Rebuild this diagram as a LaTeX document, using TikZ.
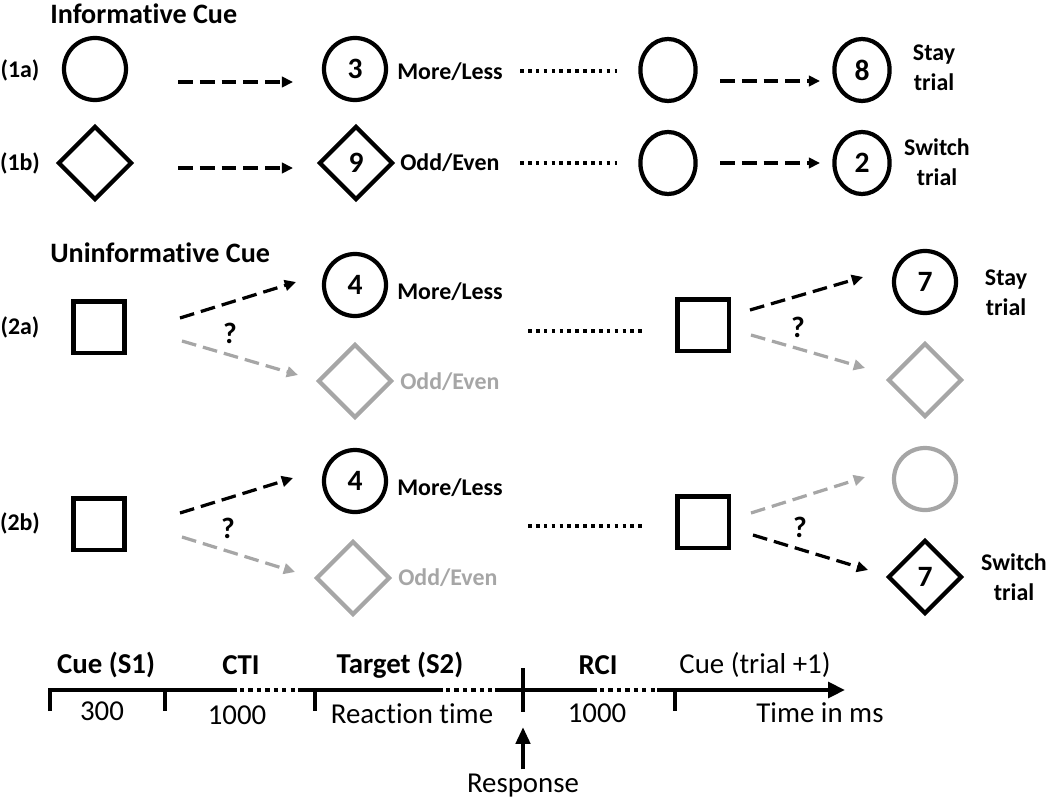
\documentclass[tikz,border=0pt]{standalone}
\usepackage{fontspec}
\setmainfont{Carlito}[Ligatures=NoCommon]
\usepackage{xcolor}
\usetikzlibrary{shapes.geometric,arrows.meta}

\definecolor{cuegray}{RGB}{166,166,166}
\newcommand{\headfont}{\fontsize{20}{24}\selectfont\bfseries}
\newcommand{\rowfont}{\fontsize{17}{20}\selectfont\bfseries}
\newcommand{\numfont}{\fontsize{21}{24}\selectfont\bfseries}
\newcommand{\trialfont}{\fontsize{17}{21.5}\selectfont\bfseries}
\newcommand{\timefont}{\fontsize{20.5}{24}\selectfont}

\tikzset{
  shapeline/.style={line width=3pt},
  circ/.style={draw, circle, shapeline, minimum size=1.55cm, inner sep=0pt, font=\numfont},
  oval/.style={draw, ellipse, shapeline, minimum width=1.38cm, minimum height=1.55cm, inner sep=0pt, font=\numfont},
  diam/.style={draw, diamond, shapeline, minimum width=1.85cm, minimum height=1.85cm, inner sep=0pt, font=\numfont},
  sqbox/.style={draw, rectangle, shapeline, minimum size=1.28cm, inner sep=0pt},
  faded/.style={draw=cuegray, text=cuegray},
  dasharrow/.style={line width=2.3pt, dash pattern=on 10.5pt off 5pt, -{Triangle[length=8pt,width=7.5pt]}},
  dotline/.style={line width=2.6pt, dash pattern=on 2.6pt off 3pt},
  tasklabel/.style={anchor=west, inner sep=0pt, font=\rowfont},
  triallabel/.style={align=center, font=\trialfont},
  timeline/.style={line width=3.4pt},
  timedots/.style={line width=3.4pt, dash pattern=on 3pt off 3pt},
}

\begin{document}
\begin{tikzpicture}[x=0.025cm, y=-0.025cm]
    \useasboundingbox (0,0) rectangle (1050,802);

    % Informative cue
    \node[anchor=west, inner sep=0pt, font=\headfont] (head1) at (50,14) {Informative Cue};
    \node[font=\rowfont] (lab1a) at (20,70) {(1a)};
    \node[font=\rowfont] (lab1b) at (20,163) {(1b)};

    % row (1a)
    \node[circ] (cue1a) at (95,69) {};
    \node[circ] (tar1a) at (355,69) {3};
    \node[tasklabel] (task1a) at (397,72) {More/Less};
    \node[oval] (nxt1a) at (668,70) {};
    \node[oval] (res1a) at (862,70) {8};
    \node[triallabel] (stay1a) at (934,68) {Stay\\trial};

    % row (1b)
    \node[diam] (cue1b) at (95,163) {};
    \node[diam] (tar1b) at (356,163) {9};
    \node[tasklabel] (task1b) at (400,163) {Odd/Even};
    \node[oval] (nxt1b) at (668,163) {};
    \node[oval] (res1b) at (862,163) {2};
    \node[triallabel] (swi1b) at (937,162) {Switch\\trial};

    % arrows and dots, rows (1a) and (1b)
    \foreach \n/\xa/\ya/\xb/\yb in {a1/178/82/293/82, a2/720/81/820/81, b1/178/168/293/168, b2/720/163/820/163} {
        \coordinate (\n-s) at (\xa,\ya);
        \coordinate (\n-e) at (\xb,\yb);
        \draw[dasharrow] (\n-s) -- (\n-e);
    }
    \foreach \n/\y in {d1a/71, d1b/163} {
        \coordinate (\n-s) at (520,\y);
        \coordinate (\n-e) at (617,\y);
        \draw[dotline] (\n-s) -- (\n-e);
    }

    % Uninformative cue
    \node[anchor=west, inner sep=0pt, font=\headfont] (head2) at (50,253) {Uninformative Cue};
    \node[font=\rowfont] (lab2a) at (20,327) {(2a)};
    \node[font=\rowfont] (lab2b) at (20,523) {(2b)};

    % row (2a)
    \node[sqbox] (cue2a) at (99,327) {};
    \node[circ] (tar2a) at (355,285) {4};
    \node[tasklabel] (task2a) at (397,292) {More/Less};
    \node[diam, faded] (alt2a) at (355,381) {};
    \node[tasklabel, text=cuegray] (odd2a) at (400,382) {Odd/Even};
    \node[sqbox] (nxt2a) at (703,325) {};
    \node[circ] (res2a) at (925,282) {7};
    \node[triallabel] (stay2a) at (1006,293) {Stay\\trial};
    \node[diam, faded] (alt2a') at (925,380) {};

    % row (2b)
    \node[sqbox] (cue2b) at (99,524) {};
    \node[circ] (tar2b) at (355,481) {4};
    \node[tasklabel] (task2b) at (397,488) {More/Less};
    \node[diam, faded] (alt2b) at (353,578) {};
    \node[tasklabel, text=cuegray] (odd2b) at (398,578) {Odd/Even};
    \node[sqbox] (nxt2b) at (703,522) {};
    \node[circ, faded] (alt2b') at (925,479) {};
    \node[diam] (res2b) at (925,577) {7};
    \node[triallabel] (swi2b) at (1014,577) {Switch\\trial};

    % fan arrows, rows (2a) and (2b)
    \foreach \n/\xa/\ya/\xb/\yb/\c in {f1/180/318/296/282/black, f2/182/341/298/375/cuegray,
                                       f3/750/310/863/277/black, f4/751/335/865/368/cuegray,
                                       f5/180/513/293/478/black, f6/182/537/295/572/cuegray,
                                       f7/751/513/865/477/cuegray, f8/753/535/868/570/black} {
        \coordinate (\n-s) at (\xa,\ya);
        \coordinate (\n-e) at (\xb,\yb);
        \draw[dasharrow, \c] (\n-s) -- (\n-e);
    }
    \node[font=\numfont] (q2a) at (230,333) {?};
    \node[font=\numfont] (q2a') at (798,327) {?};
    \node[font=\numfont] (q2b) at (228,528) {?};
    \node[font=\numfont] (q2b') at (800,527) {?};
    \foreach \n/\y in {d2a/331, d2b/526} {
        \coordinate (\n-s) at (528,\y);
        \coordinate (\n-e) at (643,\y);
        \draw[dotline] (\n-s) -- (\n-e);
    }

    % Timeline
    \draw[timeline] (50,711) |- (237,690);
    \draw[timedots] (240,690) -- (298,690);
    \draw[timeline] (298,690) -- (443,690);
    \draw[timedots] (446,690) -- (495,690);
    \draw[timeline] (495,690) -- (597,690);
    \draw[timedots] (600,690) -- (657,690);
    \draw[timeline, -{Triangle[length=12pt,width=11pt]}] (657,690) -- (845,690);
    \foreach \x in {165, 315, 675} {
        \draw[timeline] (\x,690) -- (\x,711);
    }
    \draw[timeline] (523,668) -- (523,712);
    \coordinate (resp-tip) at (523,727);
    \node[font=\timefont] (resp) at (523,786) {Response};
    \draw[timeline, -{Triangle[length=12pt,width=10pt]}] (resp.north) -- (resp-tip);

    \node[font=\timefont\bfseries] (cue) at (106,665) {Cue (S1)};
    \node[font=\timefont\bfseries] (cti) at (241,665) {CTI};
    \node[font=\timefont\bfseries] (tgt) at (400,665) {Target (S2)};
    \node[font=\timefont\bfseries] (rci) at (598,665) {RCI};
    \node[font=\timefont] (cuenext) at (755,665) {Cue (trial +1)};
    \node[font=\timefont] (d300) at (102,711) {300};
    \node[font=\timefont] (d1000) at (237,715) {1000};
    \node[font=\timefont] (drt) at (412,714) {Reaction time};
    \node[font=\timefont] (d1000b) at (597,713) {1000};
    \node[font=\timefont] (tms) at (820,713) {Time in ms};
\end{tikzpicture}
\end{document}
